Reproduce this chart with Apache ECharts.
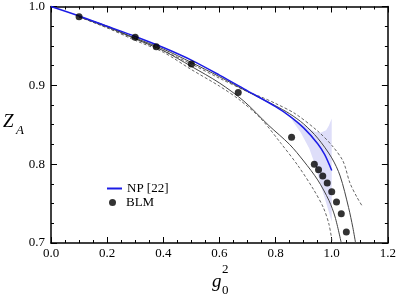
<!DOCTYPE html>
<html><head><meta charset="utf-8">
<script src="https://cdn.jsdelivr.net/npm/echarts@6/dist/echarts.min.js"></script>
<style>html,body{margin:0;padding:0;background:#fff}#c{width:399px;height:299px}</style>
</head><body><div id="c"></div>
<script>
// ---- data ----
const xTicks = [0.0, 0.2, 0.4, 0.6, 0.8, 1.0, 1.2];
const yTicks = [0.7, 0.8, 0.9, 1.0];

const blmX = [0.1, 0.3, 0.375, 0.5, 0.667, 0.857, 0.938, 0.953, 0.968, 0.984, 1.0, 1.017, 1.034, 1.052];
const blmY = [0.987, 0.961, 0.949, 0.927, 0.891, 0.834, 0.800, 0.793, 0.785, 0.776, 0.765, 0.752, 0.737, 0.714];

const npX = [0, 0.1, 0.2, 0.3, 0.4, 0.5, 0.6, 0.7, 0.8, 0.85, 0.9, 0.95, 0.975, 1.0];
const npY = [1.0, 0.988, 0.975, 0.962, 0.948, 0.932, 0.913, 0.893, 0.873, 0.861, 0.846, 0.826, 0.812, 0.792];

// NP error band (upper edge left->right, lower edge left->right)
const bandX  = [0.86, 0.89, 0.92, 0.94, 0.96, 0.98, 0.99, 1.0];
const bandHi = [0.859, 0.852, 0.845, 0.841, 0.840, 0.843, 0.849, 0.858];
const bandLo = [0.855, 0.840, 0.820, 0.800, 0.775, 0.751, 0.739, 0.727];

const usX = [0.1, 0.2, 0.3, 0.4, 0.5, 0.6, 0.7, 0.8, 0.85, 0.9, 0.95, 1.0, 1.03, 1.06, 1.075, 1.085];
const usY = [0.987, 0.974, 0.960, 0.946, 0.929, 0.911, 0.892, 0.874, 0.864, 0.851, 0.833, 0.808, 0.785, 0.745, 0.72, 0.70];

const lsX = [0.1, 0.2, 0.3, 0.4, 0.5, 0.6, 0.687, 0.776, 0.85, 0.9, 0.95, 0.99, 1.012, 1.034];
const lsY = [0.987, 0.975, 0.959, 0.944, 0.924, 0.903, 0.880, 0.849, 0.825, 0.804, 0.780, 0.754, 0.733, 0.700];

const udX = [0.1, 0.2, 0.3, 0.4, 0.5, 0.6, 0.7, 0.75, 0.8, 0.87, 0.95, 1.0, 1.04, 1.065, 1.09, 1.11];
const udY = [0.987, 0.973, 0.959, 0.944, 0.927, 0.909, 0.892, 0.885, 0.877, 0.864, 0.842, 0.824, 0.804, 0.776, 0.758, 0.746];

const ldX = [0.1, 0.2, 0.3, 0.4, 0.5, 0.6, 0.67, 0.747, 0.82, 0.88, 0.935, 0.97, 0.99, 1.002];
const ldY = [0.987, 0.973, 0.957, 0.942, 0.920, 0.899, 0.882, 0.858, 0.826, 0.798, 0.768, 0.745, 0.724, 0.700];

const zip = (a, b) => a.map((v, i) => [v, b[i]]);
const serif = "'Liberation Serif', 'Times New Roman', serif";

const chart = echarts.init(document.getElementById('c'), null, {renderer: 'canvas'});

const axisCommon = {
  axisLine: {show: true, onZero: false, lineStyle: {color: '#000', width: 1.5}},
  axisTick: {show: true, inside: true, length: 6, lineStyle: {color: '#000', width: 1}},
  minorTick: {show: true, splitNumber: 4, length: 3, lineStyle: {color: '#000', width: 1}},
  splitLine: {show: false},
  minorSplitLine: {show: false}
};

const grayLine = (name, xs, ys, dashed) => ({
  name, type: 'line', data: zip(xs, ys), showSymbol: false, symbol: 'none', smooth: 0.3,
  lineStyle: {color: dashed ? '#555' : '#444', width: dashed ? 0.9 : 1, type: dashed ? [3, 2] : 'solid'},
  z: 3, silent: true
});

chart.setOption({
  animation: false,
  textStyle: {fontFamily: serif},
  grid: {left: 51, right: 10, top: 6, bottom: 56},
  xAxis: [
    Object.assign({type: 'value', min: 0, max: 1.2, interval: 0.2, position: 'bottom',
      axisLabel: {color: '#000', fontFamily: serif, fontSize: 13, margin: 4,
        formatter: v => v.toFixed(1)}}, axisCommon),
    Object.assign({type: 'value', min: 0, max: 1.2, interval: 0.2, position: 'top',
      axisLabel: {show: false}}, axisCommon)
  ],
  yAxis: [
    Object.assign({type: 'value', min: 0.7, max: 1.0, interval: 0.1, position: 'left',
      axisLabel: {color: '#000', fontFamily: serif, fontSize: 13, margin: 6,
        formatter: v => v.toFixed(1)}}, axisCommon),
    Object.assign({type: 'value', min: 0.7, max: 1.0, interval: 0.1, position: 'right',
      axisLabel: {show: false}}, axisCommon)
  ],
  legend: [
    {data: [{name: 'NP [22]', icon: 'rect'}], left: 102, top: 177, itemWidth: 15, itemHeight: 2,
      textStyle: {fontFamily: serif, fontSize: 13, color: '#000'}, itemGap: 4, selectedMode: false},
    {data: [{name: 'BLM', icon: 'circle'}], left: 104, top: 191, itemWidth: 7, itemHeight: 7,
      textStyle: {fontFamily: serif, fontSize: 13, color: '#000', padding: [0, 0, 0, 5]}, selectedMode: false}
  ],
  graphic: [
    {type: 'text', left: 3, top: 112, style: {text: 'Z', font: 'italic 19px Liberation Serif', fill: '#000'}},
    {type: 'text', left: 16, top: 124, style: {text: 'A', font: 'italic 13px Liberation Serif', fill: '#000'}},
    {type: 'text', left: 212, top: 272, style: {text: 'g', font: 'italic 19px Liberation Serif', fill: '#000'}},
    {type: 'text', left: 222, top: 263, style: {text: '2', font: '13px Liberation Serif', fill: '#000'}},
    {type: 'text', left: 222, top: 284, style: {text: '0', font: '13px Liberation Serif', fill: '#000'}}
  ],
  series: [
    {name: 'band', type: 'custom', data: [[bandX[0], bandHi[0]]], z: 1, silent: true,
      renderItem: (params, api) => {
        const pts = [];
        for (let i = 0; i < bandX.length; i++) pts.push(api.coord([bandX[i], bandHi[i]]));
        for (let i = bandX.length - 1; i >= 0; i--) pts.push(api.coord([bandX[i], bandLo[i]]));
        return {type: 'polygon', shape: {points: pts}, style: {fill: '#dedef9'}};
      }},
    grayLine('ud', udX, udY, true),
    grayLine('us', usX, usY, false),
    grayLine('ls', lsX, lsY, false),
    grayLine('ld', ldX, ldY, true),
    {name: 'NP [22]', type: 'line', data: zip(npX, npY), symbol: 'none', smooth: 0.3,
      lineStyle: {color: '#1c1ce6', width: 1.5}, itemStyle: {color: '#1c1ce6'}, z: 4},
    {name: 'BLM', type: 'scatter', data: zip(blmX, blmY), symbol: 'circle', symbolSize: 7,
      itemStyle: {color: '#000'}, z: 5}
  ]
});
</script>
</body></html>
